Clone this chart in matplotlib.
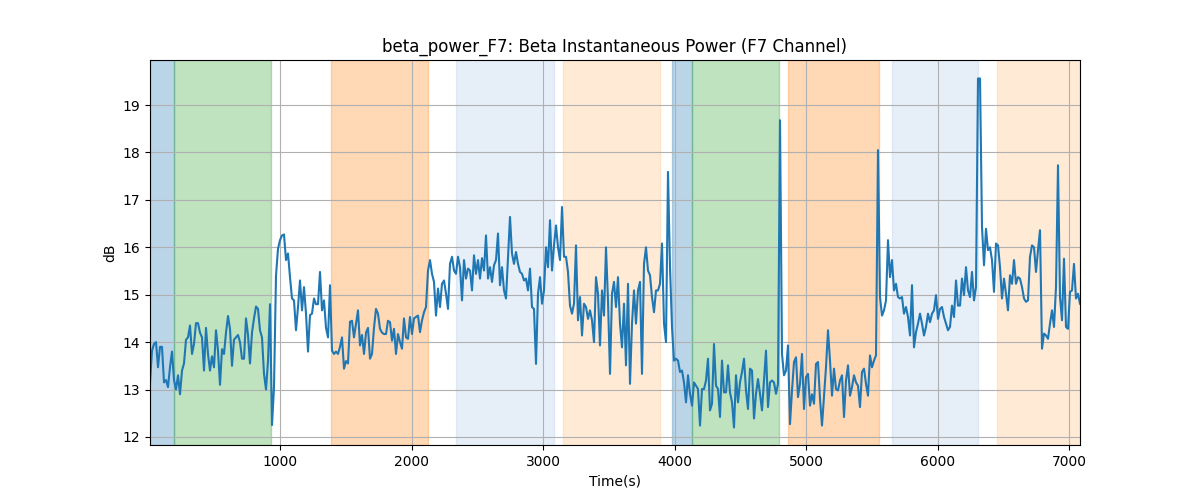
import numpy as np
import matplotlib
matplotlib.use("Agg")
import matplotlib.pyplot as plt

# ---- data ----
seg1 = [13.15, 13.82, 13.96, 14.0, 13.47, 13.9, 13.9, 13.15, 13.2, 13.05, 13.47, 13.8, 13.2, 13.0, 13.3, 12.9,
        13.4, 13.55, 14.05, 14.1, 14.35, 13.75, 13.96, 14.4, 14.4, 14.2, 14.1, 13.4, 14.3, 13.75, 13.4, 13.7,
        13.47, 14.25, 13.82, 13.1, 13.85, 13.75, 14.2, 14.55, 14.28, 13.5, 14.05, 14.1, 14.15, 14.0, 13.65, 13.65,
        14.5, 14.15, 13.55, 14.2, 14.5, 14.75, 14.7, 14.25, 14.1, 13.33, 13.0, 13.6, 14.8, 12.25, 13.05, 15.4,
        15.97, 16.15]
seg2 = [16.25, 16.27, 15.73, 15.87, 15.37, 14.92, 14.88, 14.25, 14.74, 15.3, 14.67, 15.16, 14.6, 13.8, 14.57, 14.6,
        14.92, 14.8, 14.8, 15.48, 14.67, 14.88, 14.3, 14.1, 15.2, 13.82, 13.75, 13.8, 13.75, 13.9, 14.1, 13.44,
        13.6, 13.55, 14.43, 14.45, 14.1, 14.38, 14.67, 13.93, 14.15, 13.75, 14.2, 14.3, 13.65, 13.75, 14.3, 14.7,
        14.6, 14.28, 14.2, 14.17, 14.17, 14.45, 14.42, 14.03, 14.28, 13.75, 14.17, 14.0, 13.86, 14.5, 14.1, 14.07,
        14.53, 14.17]
seg3 = [14.5, 14.53, 14.56, 14.21, 14.46, 14.63, 14.74, 15.51, 15.73, 15.44, 15.27, 14.56, 15.13, 14.74, 15.23, 15.3,
        15.02, 14.7, 15.65, 15.8, 15.51, 15.44, 15.8, 15.58, 14.88, 15.73, 15.34, 15.55, 15.51, 15.09, 15.83, 15.44,
        15.73, 15.34, 15.77, 15.51, 16.25, 15.34, 15.58, 15.27, 15.62, 15.73, 16.29, 15.2, 15.58, 15.09, 14.92, 15.8,
        16.64, 15.87, 15.65, 15.9, 15.65, 15.48, 15.44, 15.3, 15.34, 15.09, 15.55, 14.74, 14.7, 13.54, 15.02, 15.37,
        14.81, 15.09]
seg4 = [16.0, 15.58, 16.57, 15.51, 16.04, 16.46, 16.0, 15.73, 16.85, 15.8, 15.8, 15.48, 14.77, 14.6, 14.81, 16.04,
        14.46, 14.95, 14.14, 14.81, 14.74, 14.49, 14.67, 14.46, 14.0, 15.37, 15.02, 13.93, 15.09, 14.56, 16.0, 14.88,
        13.33, 15.02, 15.27, 14.74, 15.37, 14.39, 13.89, 14.81, 13.51, 15.23, 13.12, 14.39, 15.09, 14.39, 15.09, 15.27,
        13.33, 15.65, 16.0, 15.51, 15.41, 14.95, 14.63, 15.09, 15.09, 15.23, 16.08, 14.39, 14.0, 17.59, 15.58, 14.32,
        13.61, 13.65]
seg5 = [13.61, 13.37, 13.4, 13.15, 12.73, 13.3, 12.91, 12.66, 13.15, 13.08, 13.01, 12.24, 13.01, 13.01, 13.19, 13.65,
        12.56, 12.7, 13.96, 13.08, 13.01, 12.42, 13.61, 12.94, 12.94, 13.51, 12.94, 12.73, 12.2, 13.3, 12.73, 13.15,
        13.37, 13.65, 12.98, 12.59, 13.44, 13.4, 12.39, 12.91, 13.22, 12.91, 12.56, 13.19, 13.82, 12.63, 13.15, 13.19,
        13.15, 12.91, 13.12, 18.68, 13.75, 13.3, 13.4, 13.93, 12.27, 12.98, 13.58, 13.68, 12.84, 13.12, 13.75, 12.59,
        13.26, 13.33]
seg6 = [12.66, 12.9, 12.7, 13.54, 13.58, 12.8, 12.24, 12.85, 13.47, 14.25, 13.61, 12.87, 13.44, 13.01, 12.98, 13.19,
        13.3, 12.42, 13.19, 13.51, 12.87, 13.05, 13.3, 13.15, 13.08, 12.63, 13.37, 13.44, 13.12, 12.87, 13.72, 13.47,
        13.61, 13.72, 18.05, 14.95, 14.56, 14.67, 14.88, 16.15, 15.37, 15.73, 15.09, 15.23, 14.95, 14.92, 14.95, 14.6,
        14.74, 14.53, 14.14, 15.2, 13.89, 14.21, 14.39, 14.6, 14.39, 14.14, 14.32, 14.6, 14.42, 14.6, 14.67, 14.99,
        14.49, 14.7]
seg7 = [14.74, 14.53, 14.39, 14.25, 14.32, 14.77, 14.53, 15.3, 14.77, 14.77, 15.34, 14.99, 15.58, 15.09, 14.95, 15.48,
        14.88, 15.16, 19.56, 19.56, 16.43, 15.62, 16.39, 15.94, 16.0, 15.73, 15.06, 16.08, 16.04, 15.58, 14.92, 15.34,
        15.02, 14.67, 15.41, 15.23, 15.73, 15.23, 15.37, 15.34, 15.16, 14.92, 14.85, 14.88, 15.8, 16.04, 16.0, 15.48,
        15.94, 16.36, 13.86, 14.18, 14.14, 14.07, 14.39, 14.67, 14.32, 15.16, 17.73, 14.95, 14.46, 15.76, 14.32, 14.28,
        15.06, 15.09, 15.65, 14.92, 15.02, 14.81]
power_db = np.array(seg1 + seg2 + seg3 + seg4 + seg5 + seg6 + seg7)

t_start = 8.0
t_end = 7081.0
time_s = np.linspace(t_start, t_end, len(power_db))

span_starts = [8, 192, 1384, 2335, 3148, 3977, 4132, 4859, 5650, 6449]
span_ends = [192, 925, 2119, 3078, 3884, 4132, 4789, 5549, 6302, 7081]
span_colors = ['tab:blue', 'tab:green', 'tab:orange', '#aec7e8', '#ffbb78',
               'tab:blue', 'tab:green', 'tab:orange', '#aec7e8', '#ffbb78']

title = "beta_power_F7: Beta Instantaneous Power (F7 Channel)"

# ---- plot ----
fig, ax = plt.subplots(figsize=(12, 5), dpi=100)
for s, e, c in zip(span_starts, span_ends, span_colors):
    ax.axvspan(s, e, color=c, alpha=0.3)
ax.plot(time_s, power_db, color='tab:blue', linewidth=1.5)
ax.set_xlim(t_start, t_end)
ax.set_ylim(11.83, 19.95)
ax.set_title(title)
ax.set_xlabel("Time(s)")
ax.set_ylabel("dB")
ax.grid(True)
fig.savefig("out.png", dpi=100)
